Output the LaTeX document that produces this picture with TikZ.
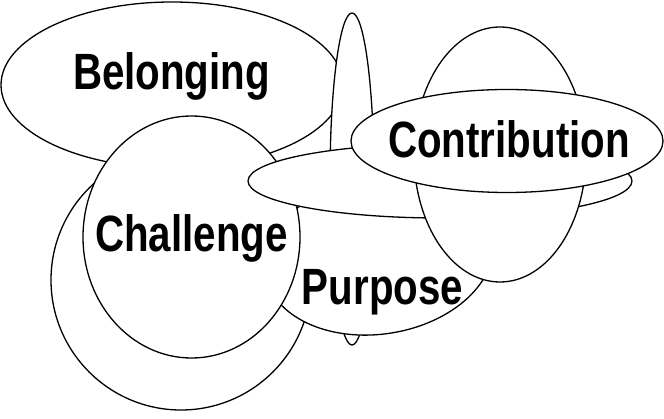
\documentclass[tikz,border=0pt]{standalone}
\usepackage{fontspec}
\newfontfamily\labfont[FakeStretch=0.79]{Liberation Sans}
\begin{document}
\begin{tikzpicture}[x=1pt,y=-1pt, line width=1.3pt,
  blob/.style={draw=black, fill=white},
  lab/.style={font=\labfont\bfseries\fontsize{51}{60}\selectfont, anchor=base, inner sep=0pt}]
\useasboundingbox (0,0) rectangle (664,419);
\fill[white] (0,0) rectangle (664,419);
% shapes, back to front
\path[blob] (172,85) ellipse [x radius=171, y radius=83];
\path[blob] (352,179) ellipse [x radius=22, y radius=166];
\path[blob] (181,280) circle [radius=130];
\path[blob, rotate around={9:(379,256)}] (379,256) ellipse [x radius=115, y radius=78];
\path[blob] (191.5,237) ellipse [x radius=108.5, y radius=121];
\path[blob] (440,181) ellipse [x radius=192, y radius=37];
\path[blob] (500,154.5) ellipse [x radius=86, y radius=127.5];
\path[blob] (507,141) ellipse [x radius=156, y radius=51.5];
% labels
\node[lab] (belonging) at (171.5,90) {Belonging};
\node[lab] (contribution) at (509,158) {Contribution};
\node[lab] (challenge) at (191.5,252) {Challenge};
\node[lab] (purpose) at (382.5,305) {Purpose};
\end{tikzpicture}
\end{document}
